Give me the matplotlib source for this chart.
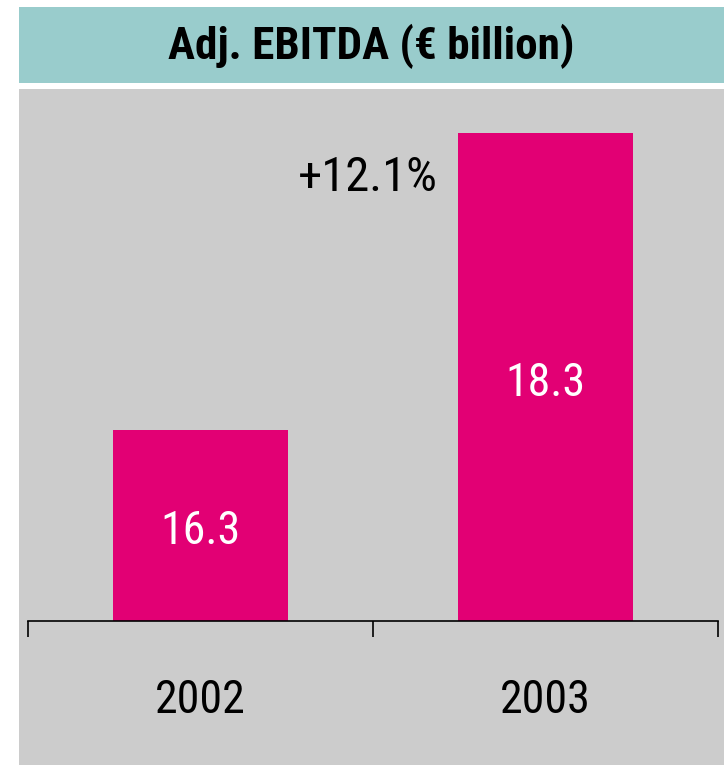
import matplotlib
matplotlib.use("Agg")
import matplotlib.pyplot as plt
from matplotlib.patches import Rectangle

# data
years = ["2002", "2003"]
ebitda = [16.3, 18.3]
growth_label = "+12.1%"
title = "Adj. EBITDA (€ billion)"

magenta = "#E20074"
grey = "#CCCCCC"
teal = "#99CCCC"
W, H = 724, 765

plt.rcParams['font.family'] = ['Roboto Condensed', 'DejaVu Sans']

fig = plt.figure(figsize=(W/100, H/100), dpi=100)
fig.patch.set_facecolor("white")

# background boxes (pixels from top -> figure fraction)
fig.patches.append(Rectangle((19/W, 0), 1 - 19/W, (H-89)/H, transform=fig.transFigure,
                             facecolor=grey, edgecolor="none", zorder=0))
fig.patches.append(Rectangle((19/W, (H-83)/H), 1 - 19/W, 76/H, transform=fig.transFigure,
                             facecolor=teal, edgecolor="none", zorder=0))
fig.text((19+W)/2/W, (H-46)/H, title, ha="center", va="center",
         fontsize=32.5, fontweight="bold", color="black")

ax = fig.add_axes([28/W, (H-621)/H, 690/W, 532/H])
ax.set_zorder(2)
ax.set_facecolor("none")
x = range(len(years))
bars = ax.bar(x, ebitda, width=0.507, color=magenta, bottom=0)
ax.set_xlim(-0.5, 1.5)
ax.set_ylim(15.012, 18.6)

for xi, v in zip(x, ebitda):
    ax.text(xi, (15.012 + v)/2 - 0.04, f"{v:.1f}", ha="center", va="center",
            color="white", fontsize=33)

ax.text(1 - 0.507/2 - 0.06, 18.0, growth_label, ha="right", va="center",
        fontsize=35, color="black")

for s in ["top", "left", "right"]:
    ax.spines[s].set_visible(False)
ax.spines["bottom"].set_linewidth(1.2)
ax.set_yticks([])
ax.set_xticks([-0.5, 0.5, 1.5], labels=["", "", ""])
ax.tick_params(axis="x", which="major", direction="out", length=11.5, width=1.2)
ax.set_xticks([0, 1], labels=years, minor=True)
ax.tick_params(axis="x", which="minor", length=0, pad=41, labelsize=33)

fig.savefig("out.png", dpi=100)
